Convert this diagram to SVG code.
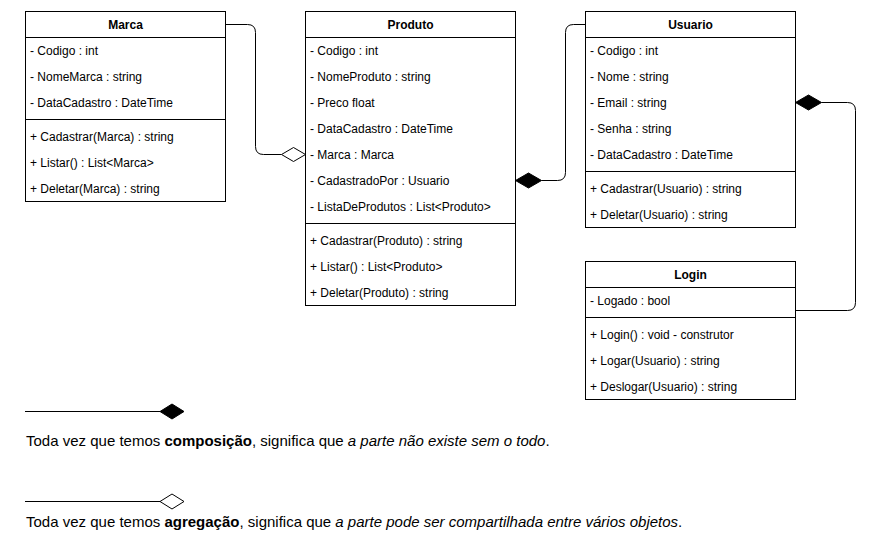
<svg xmlns="http://www.w3.org/2000/svg" width="883" height="533" viewBox="0 0 883 533">
<style>
.box{fill:#ffffff;stroke:#000000;stroke-width:1}
.sep{stroke:#000000;stroke-width:1;fill:none}
.t{font-family:"Liberation Sans",Arial,Helvetica,sans-serif;font-size:12px;fill:#000000}
.h{font-family:"Liberation Sans",Arial,Helvetica,sans-serif;font-size:12px;font-weight:bold;fill:#000000;text-anchor:middle}
.edge{fill:none;stroke:#000000;stroke-width:1}
.dfill{fill:#000000;stroke:#000000;stroke-width:1}
.dhollow{fill:#ffffff;stroke:#000000;stroke-width:1}
.lg{font-family:"Liberation Sans",Arial,Helvetica,sans-serif;font-size:15px;fill:#000000}
</style>
<rect width="883" height="533" fill="#ffffff"/>

<g id="connectors">
  <path class="edge" d="M225.5,24.5 H247.5 Q255.5,24.5 255.5,32.5 V146.5 Q255.5,154.5 263.5,154.5 H281.5"/>
  <polygon class="dhollow" points="305.5,154.5 293.5,147.5 281.5,154.5 293.5,161.5"/>
  <path class="edge" d="M585.5,24.5 H573.5 Q565.5,24.5 565.5,32.5 V172.5 Q565.5,180.5 557.5,180.5 H541.5"/>
  <polygon class="dfill" points="515.5,180.5 528.5,173 541.5,180.5 528.5,188"/>
  <path class="edge" d="M795.5,310.5 H847.5 Q855.5,310.5 855.5,302.5 V110.5 Q855.5,102.5 847.5,102.5 H821.5"/>
  <polygon class="dfill" points="795.5,102.5 808.5,95 821.5,102.5 808.5,110"/>
</g>

<g id="marca">
  <rect class="box" x="25.5" y="11.5" width="200" height="190"/>
  <line class="sep" x1="25.5" y1="37.5" x2="225.5" y2="37.5"/>
  <line class="sep" x1="25.5" y1="119.5" x2="225.5" y2="119.5"/>
  <text class="h" x="125.5" y="28.5">Marca</text>
  <text class="t" x="30" y="54.5">- Codigo : int</text>
  <text class="t" x="30" y="80.5">- NomeMarca : string</text>
  <text class="t" x="30" y="106.5">- DataCadastro : DateTime</text>
  <text class="t" x="30" y="140.5">+ Cadastrar(Marca) : string</text>
  <text class="t" x="30" y="166.5">+ Listar() : List&lt;Marca&gt;</text>
  <text class="t" x="30" y="192.5">+ Deletar(Marca) : string</text>
</g>

<g id="produto">
  <rect class="box" x="305.5" y="11.5" width="210" height="294"/>
  <line class="sep" x1="305.5" y1="37.5" x2="515.5" y2="37.5"/>
  <line class="sep" x1="305.5" y1="223.5" x2="515.5" y2="223.5"/>
  <text class="h" x="410.5" y="28.5">Produto</text>
  <text class="t" x="310" y="54.5">- Codigo : int</text>
  <text class="t" x="310" y="80.5">- NomeProduto : string</text>
  <text class="t" x="310" y="106.5">- Preco float</text>
  <text class="t" x="310" y="132.5">- DataCadastro : DateTime</text>
  <text class="t" x="310" y="158.5">- Marca : Marca</text>
  <text class="t" x="310" y="184.5">- CadastradoPor : Usuario</text>
  <text class="t" x="310" y="210.5">- ListaDeProdutos : List&lt;Produto&gt;</text>
  <text class="t" x="310" y="244.5">+ Cadastrar(Produto) : string</text>
  <text class="t" x="310" y="270.5">+ Listar() : List&lt;Produto&gt;</text>
  <text class="t" x="310" y="296.5">+ Deletar(Produto) : string</text>
</g>

<g id="usuario">
  <rect class="box" x="585.5" y="11.5" width="210" height="216"/>
  <line class="sep" x1="585.5" y1="37.5" x2="795.5" y2="37.5"/>
  <line class="sep" x1="585.5" y1="171.5" x2="795.5" y2="171.5"/>
  <text class="h" x="690.5" y="28.5">Usuario</text>
  <text class="t" x="590" y="54.5">- Codigo : int</text>
  <text class="t" x="590" y="80.5">- Nome : string</text>
  <text class="t" x="590" y="106.5">- Email : string</text>
  <text class="t" x="590" y="132.5">- Senha : string</text>
  <text class="t" x="590" y="158.5">- DataCadastro : DateTime</text>
  <text class="t" x="590" y="192.5">+ Cadastrar(Usuario) : string</text>
  <text class="t" x="590" y="218.5">+ Deletar(Usuario) : string</text>
</g>

<g id="login">
  <rect class="box" x="585.5" y="261.5" width="210" height="138"/>
  <line class="sep" x1="585.5" y1="287.5" x2="795.5" y2="287.5"/>
  <line class="sep" x1="585.5" y1="317.5" x2="795.5" y2="317.5"/>
  <text class="h" x="690.5" y="278.5">Login</text>
  <text class="t" x="590" y="304.5">- Logado : bool</text>
  <text class="t" x="590" y="338.5">+ Login() : void - construtor</text>
  <text class="t" x="590" y="364.5">+ Logar(Usuario) : string</text>
  <text class="t" x="590" y="390.5">+ Deslogar(Usuario) : string</text>
</g>

<g id="legend">
  <line class="edge" x1="25" y1="411.5" x2="160" y2="411.5"/>
  <polygon class="dfill" points="160,411.5 172,404 184,411.5 172,419"/>
  <text class="lg" x="26" y="446">Toda vez que temos <tspan font-weight="bold">composição</tspan>, significa que <tspan font-style="italic">a parte não existe sem o todo</tspan>.</text>
  <line class="edge" x1="25" y1="501.5" x2="160" y2="501.5"/>
  <polygon class="dhollow" points="160,501.5 172,494 184,501.5 172,509"/>
  <text class="lg" x="26" y="527">Toda vez que temos <tspan font-weight="bold">agregação</tspan>, significa que <tspan font-style="italic">a parte pode ser compartilhada entre vários objetos</tspan>.</text>
</g>
</svg>
